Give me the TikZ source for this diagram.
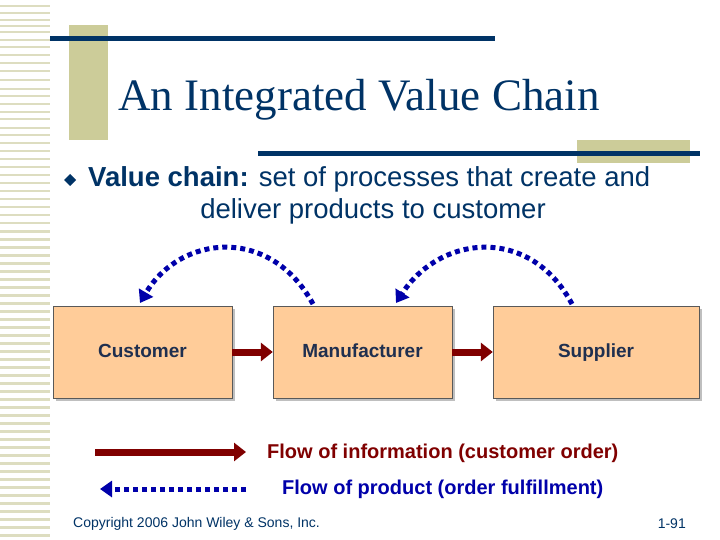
\documentclass[tikz,border=0pt]{standalone}
\usepackage{fontspec}
\setmainfont{Liberation Sans}
\newfontfamily\titlefont{Liberation Serif}
\usetikzlibrary{arrows.meta}
\definecolor{navy}{HTML}{003366}
\definecolor{khaki}{HTML}{CCCC99}
\definecolor{stripe}{HTML}{DDDDC0}
\definecolor{peach}{HTML}{FFCC99}
\definecolor{darkred}{HTML}{800000}
\definecolor{dblue}{HTML}{0000AA}
\definecolor{boxtext}{HTML}{1F2F4F}
\tikzset{
  box/.style={draw=gray!70!black, fill=peach, minimum width=179pt, minimum height=92pt, inner sep=0pt, text height=14pt, text depth=4pt, font=\bfseries\fontsize{19pt}{22pt}\selectfont, text=boxtext},
  info/.style={darkred, line width=7pt, -{Triangle[length=12pt,width=18pt]}},
  prod/.style={dblue, line width=5pt, dash pattern=on 5pt off 4pt, -{Triangle[length=12pt,width=16pt]}},
}
\begin{document}
\begin{tikzpicture}[x=1pt,y=-1pt]
\useasboundingbox (0,0) rectangle (720,540);
\fill[white] (0,0) rectangle (720,540);
% left stripes
\foreach \y in {5,12,19,25,31,39,46,54,62,70,79,88,95,103,111,118,127,134,142,150,158,166,174,182,190,198,206,214,222,230,238,246,254,262,270,278,286,294,302,310,318,326,334,342,350,358,366,374,382,390,398,406,414,422,430,438,446,454,462,470,478,486,494,502,510,518,526,534}
  \fill[stripe] (0,\y) rectangle (50,\y+2.5);
% decorations
\fill[khaki] (69,25) rectangle (108,140);
\fill[navy] (50,36) rectangle (495,41);
\fill[khaki] (577,140) rectangle (690,163);
\fill[navy] (258,151) rectangle (700,156);
\node[font=\titlefont\fontsize{45pt}{50pt}\selectfont, text=navy] (title) at (359,100) {An Integrated Value Chain};
% bullet
\fill[navy] (70,174) -- (76,180) -- (70,186) -- (64,180) -- cycle;
\node[anchor=west, font=\fontsize{27.5pt}{32pt}\selectfont, text=navy, inner sep=0pt] (b1) at (88,179) {\textbf{Value chain:} set of processes that create and};
\node[font=\fontsize{27.5pt}{32pt}\selectfont, text=navy, inner sep=0pt] (b2) at (373,211) {deliver products to customer};
% shadows and boxes
\foreach \a/\b in {53/232,273/452,493/699} \fill[gray!50] (\a+3,309) rectangle (\b+3,401);
\node[box] (cust) at (142.5,352) {Customer};
\node[box] (manu) at (362.5,352) {Manufacturer};
\node[box, minimum width=206pt] (supp) at (596,352) {Supplier};
\draw[info] (cust.east) -- (manu.west);
\draw[info] (manu.east) -- (supp.west);
\coordinate (m1) at (313,304);
\coordinate (c1) at (140,303);
\coordinate (s1) at (572,304);
\coordinate (m2) at (396,303);
\draw[prod] (m1) .. controls (270,225) and (180,235) .. (c1);
\draw[prod] (s1) .. controls (530,225) and (440,235) .. (m2);
% legend
\coordinate (l1a) at (95,452); \coordinate (l1b) at (246,452);
\coordinate (l2a) at (246,489); \coordinate (l2b) at (100,489);
\draw[info] (l1a) -- (l1b);
\draw[prod] (l2a) -- (l2b);
\node[anchor=west, font=\bfseries\fontsize{20pt}{24pt}\selectfont, text=darkred, inner sep=0pt] (t1) at (267,453) {Flow of information (customer order)};
\node[anchor=west, font=\bfseries\fontsize{20pt}{24pt}\selectfont, text=dblue, inner sep=0pt] (t2) at (282,489) {Flow of product (order fulfillment)};
% footer
\node[anchor=west, font=\fontsize{14pt}{16pt}\selectfont, text=navy, inner sep=0pt] (cp) at (73,524) {Copyright 2006 John Wiley \& Sons, Inc.};
\node[anchor=east, font=\fontsize{14pt}{16pt}\selectfont, text=navy, inner sep=0pt] (pg) at (686,524) {1-91};
\end{tikzpicture}
\end{document}
